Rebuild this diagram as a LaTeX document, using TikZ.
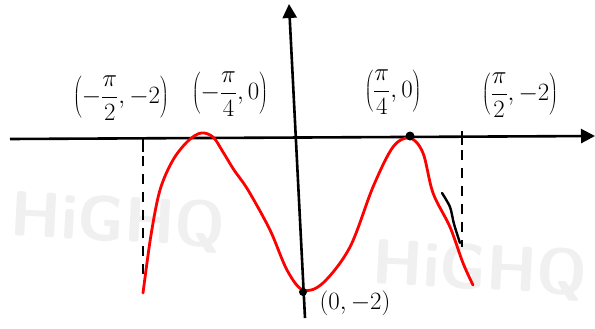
\documentclass[tikz,border=0pt]{standalone}
\usetikzlibrary{arrows.meta}

\tikzset{
  axis/.style={line width=2.6pt},
  curve/.style={red, line width=2.8pt, line cap=round},
  point/.style={font=\fontsize{24}{28}\selectfont, inner sep=1pt},
  watermark/.style={text=black!6, font=\sffamily\bfseries\fontsize{64}{64}\selectfont}
}

\begin{document}
\begin{tikzpicture}[x=1pt, y=-1pt, >={Triangle[length=14pt,width=14pt]}]
    \useasboundingbox (0,0) rectangle (595,329);

    % --- watermark ---
    \node[watermark, rotate=-3] (wmLeft) at (118,222) {HiGHQ};
    \node[watermark, rotate=-3] (wmRight) at (480,270) {HiGHQ};

    % --- 1. Axes ---
    \coordinate (xStart) at (10,139);
    \coordinate (xEnd) at (595,136);
    \coordinate (yStart) at (305,318);
    \coordinate (yEnd) at (289,4);
    \draw[axis, ->] (xStart) -- (xEnd);
    \draw[axis, ->] (yStart) -- (yEnd);

    % ticks at -pi/2 and pi/2
    \draw[axis] (143,138) -- (143,152);
    \draw[axis] (462,131) -- (462,145);

    % dashed bounds
    \draw[axis, dash pattern=on 10pt off 8pt] (143,156) -- (143,277);
    \draw[axis, dash pattern=on 10pt off 8pt] (462,150) -- (462,247);

    % --- 2. Curve ---
    \draw[curve] plot[smooth, tension=0.55] coordinates {
      (143,293) (151,235) (160,190) (173,160) (188,141) (201,133)
      (213,137) (223,152) (234,170) (248,190) (270,230) (287,270)
      (303,290) (323,283) (350,247) (373,187) (393,147) (410,138)
      (423,153) (433,193) (450,227) (463,263) (473,285)};

    % small stroke next to the curve
    \draw[line width=2.4pt, line cap=round] plot[smooth] coordinates {
      (442,193) (450,207) (454,224) (460,243)};

    % marked points
    \fill (410,136) circle (4.5);
    \fill (303,292) circle (4);

    % --- 3. Labels ---
    \node[point] (lblLeftMin) at (121,98) {$\displaystyle\left(-\frac{\pi}{2},-2\right)$};
    \node[point] (lblLeftMax) at (230,94) {$\displaystyle\left(-\frac{\pi}{4},0\right)$};
    \node[point] (lblRightMax) at (393,92) {$\displaystyle\left(\frac{\pi}{4},0\right)$};
    \node[point] (lblRightMin) at (520,95) {$\displaystyle\left(\frac{\pi}{2},-2\right)$};
    \node[point] (lblOrigin) at (355,303) {$(0,-2)$};
\end{tikzpicture}
\end{document}
